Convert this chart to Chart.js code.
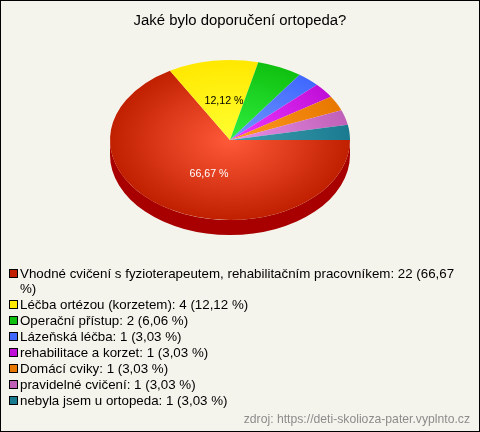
<!DOCTYPE html>
<html>
<head>
<meta charset="utf-8">
<script src="https://cdn.jsdelivr.net/npm/chart.js@4"></script>
<style>
  html, body { margin: 0; padding: 0; background: #f5f4ec; }
  canvas { display: block; }
</style>
</head>
<body>
<canvas id="chart" width="480" height="432"></canvas>
<script>
// Data
const titleText = "Jaké bylo doporučení ortopeda?";
const sourceText = "zdroj: https://deti-skolioza-pater.vyplnto.cz";
const categories = [
  "Vhodné cvičení s fyzioterapeutem, rehabilitačním pracovníkem",
  "Léčba ortézou (korzetem)",
  "Operační přístup",
  "Lázeňská léčba",
  "rehabilitace a korzet",
  "Domácí cviky",
  "pravidelné cvičení",
  "nebyla jsem u ortopeda"
];
const counts = [22, 4, 2, 1, 1, 1, 1, 1];
const edgeColors = ["#c02000", "#ffe800", "#10c010", "#4068ff", "#c010d8", "#e87800", "#c060b8", "#1a7a90"];
const centerColors = ["#ff5a3a", "#ffff30", "#30f040", "#7098ff", "#f038ff", "#ff9a20", "#e890e8", "#40a0b0"];
const sideColors = ["#a80000", "#b8a000", "#008000", "#2040b0", "#800090", "#a05000", "#804080", "#005060"];

const total = counts.reduce((a, b) => a + b, 0);
const squash = 2 / 3;  // pie is flattened into an ellipse
const depth = 15;      // height of the pie's side
const pieY = 140;      // where the pie centre ends up on the page
const pieShift = -10;  // pie sits left of the title's centre line

function percent(v) {
  return (v / total * 100).toFixed(2).replace(".", ",") + " %";
}

// Pie side and flattening
const tiltPlugin = {
  id: "tilt",
  beforeDatasetsDraw(chart) {
    const ctx = chart.ctx;
    const arcs = chart.getDatasetMeta(0).data;
    arcs.forEach((arc, i) => {
      const s = Math.max(arc.startAngle, 0);
      const e = Math.min(arc.endAngle, Math.PI);
      if (e <= s) return;
      const ry = arc.outerRadius * squash;
      ctx.beginPath();
      ctx.ellipse(arc.x + pieShift, pieY + depth, arc.outerRadius, ry, 0, s, e);
      ctx.ellipse(arc.x + pieShift, pieY, arc.outerRadius, ry, 0, e, s, true);
      ctx.closePath();
      ctx.fillStyle = sideColors[i];
      ctx.fill();
    });
    const y0 = arcs[0].y;
    ctx.save();
    ctx.translate(pieShift, pieY);
    ctx.scale(1, squash);
    ctx.translate(0, -y0);
  },
  afterDatasetsDraw(chart) {
    chart.ctx.restore();
  }
};

// Percent labels, legend, source note, frame
const textPlugin = {
  id: "texts",
  afterDraw(chart) {
    const ctx = chart.ctx;
    const arcs = chart.getDatasetMeta(0).data;
    ctx.save();

    ctx.font = "10.67px 'Liberation Sans'";
    ctx.textAlign = "center";
    ctx.textBaseline = "middle";
    arcs.forEach((arc, i) => {
      if (counts[i] / total < 0.1) return;
      const mid = (arc.startAngle + arc.endAngle) / 2;
      ctx.fillStyle = i === 0 ? "#ffffff" : "#000000";
      ctx.fillText(percent(counts[i]),
        arc.x + pieShift + arc.outerRadius * 0.35 * Math.cos(mid),
        pieY + arc.outerRadius * 0.325 * Math.sin(mid));
    });

    ctx.font = "13.33px 'Liberation Sans'";
    ctx.textAlign = "left";
    let y = 274;
    categories.forEach((name, i) => {
      ctx.fillStyle = edgeColors[i];
      ctx.fillRect(10, y - 4, 7, 7);
      ctx.strokeStyle = "#000000";
      ctx.lineWidth = 1;
      ctx.strokeRect(9.5, y - 4.5, 8, 8);
      ctx.fillStyle = "#000000";
      const words = `${name}: ${counts[i]} (${percent(counts[i])})`.split(" ");
      let line = "";
      words.forEach(w => {
        const next = line ? line + " " + w : w;
        if (ctx.measureText(next).width > 445) {
          ctx.fillText(line, 20, y);
          y += 15;
          line = w;
        } else {
          line = next;
        }
      });
      ctx.fillText(line, 20, y);
      y += 16;
    });

    ctx.font = "12.2px 'Liberation Sans'";
    ctx.fillStyle = "#8c8c8c";
    ctx.textAlign = "right";
    ctx.fillText(sourceText, 470, 420);

    ctx.strokeStyle = "#000000";
    ctx.strokeRect(0.5, 0.5, 479, 431);
    ctx.restore();
  }
};

new Chart(document.getElementById("chart"), {
  type: "pie",
  data: {
    labels: categories,
    datasets: [{
      data: counts,
      clip: false,
      borderWidth: 0,
      backgroundColor(c) {
        const a = c.chart.chartArea;
        if (!a) return edgeColors[c.dataIndex];
        const x = (a.left + a.right) / 2;
        const y = (a.top + a.bottom) / 2;
        const g = c.chart.ctx.createRadialGradient(x, y, 0, x, y, 120);
        g.addColorStop(0, centerColors[c.dataIndex]);
        g.addColorStop(1, edgeColors[c.dataIndex]);
        return g;
      }
    }]
  },
  options: {
    responsive: false,
    animation: false,
    rotation: 90,
    layout: { padding: { left: 120, right: 120, top: 0, bottom: 162 } },
    plugins: {
      legend: { display: false },
      tooltip: { enabled: false },
      title: {
        display: true,
        text: titleText,
        color: "#000000",
        font: { family: "'Liberation Sans'", size: 14.9, weight: "normal" },
        padding: { top: 12, bottom: 0 }
      }
    }
  },
  plugins: [tiltPlugin, textPlugin]
});
</script>
</body>
</html>
